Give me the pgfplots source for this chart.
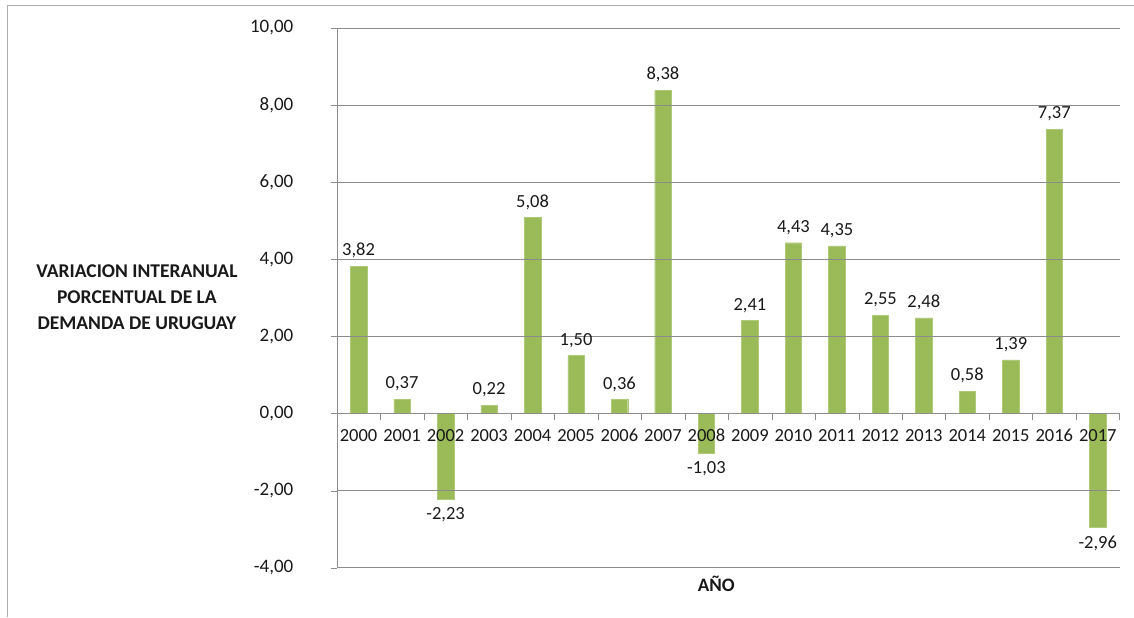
\documentclass[border=0pt]{standalone}
\usepackage{pgfplots}
\pgfplotsset{compat=1.18}
\usepackage{fontspec}
\setmainfont{Carlito}
\definecolor{bargreen}{HTML}{9BBB59}
\definecolor{gridgray}{HTML}{8C8C8C}
\pgfdeclarelayer{bars}
\pgfplotsset{
  layers/mylayers/.define layer set={axis background,axis grid,bars,axis ticks,axis lines,axis tick labels,main,axis descriptions,axis foreground}{},
}
\begin{document}
\begin{tikzpicture}
\begin{axis}[
  set layers=mylayers,
  name=ax,
  scale only axis,
  width=783pt, height=540pt,
  xmin=-0.5, xmax=17.5,
  ymin=-4, ymax=10,
  ybar, bar width=16.5pt,
  axis x line=middle, axis y line=left,
  axis line style={-, draw=gridgray},
  tick align=outside,
  xtick={0,...,17},
  xticklabels={2000,2001,2002,2003,2004,2005,2006,2007,2008,2009,2010,2011,2012,2013,2014,2015,2016,2017},
  major x tick style={draw=none},
  minor xtick={-0.5,0.5,...,17.5},
  minor x tick style={draw=gridgray},
  minor tick length=6pt,
  xticklabel style={font=\fontsize{18.5}{20}\selectfont, yshift=-6pt, text=black!90},
  ytick={-4,-2,...,10},
  major tick length=6pt,
  y tick style={draw=gridgray},
  ymajorgrids,
  grid style={draw=gridgray, line width=0.8pt},
  yticklabel style={font=\fontsize{19}{20}\selectfont, xshift=-34pt, text=black!90,
    /pgf/number format/.cd, fixed, fixed zerofill, precision=2, use comma},
  /pgf/number format/assume math mode=true,
  scaled y ticks=false,
  nodes near coords,
  nodes near coords style={font=\fontsize{18.5}{20}\selectfont, text=black!90, inner ysep=8pt,
    /pgf/number format/.cd, fixed, fixed zerofill, precision=2, use comma, assume math mode=true},
  clip=false,
]
\addplot[on layer=bars, fill=bargreen, draw=bargreen!80!white] coordinates {
(0,3.82) (1,0.37) (2,-2.23) (3,0.22) (4,5.08) (5,1.50) (6,0.36) (7,8.38) (8,-1.03)
(9,2.41) (10,4.43) (11,4.35) (12,2.55) (13,2.48) (14,0.58) (15,1.39) (16,7.37) (17,-2.96)
};
\end{axis}
\node[font=\bfseries\fontsize{19.5}{26}\selectfont, align=center, text=black!90] at ([xshift=-200pt, yshift=271pt]ax.south west) {VARIACION INTERANUAL\\PORCENTUAL DE LA\\DEMANDA DE URUGUAY};
\node[font=\bfseries\fontsize{19}{20}\selectfont, text=black!90] at ([xshift=-12pt, yshift=-16pt]ax.south) {AÑO};
\draw[gridgray!70, line width=1pt] ([xshift=-329pt, yshift=-49pt]ax.south west) -- ([xshift=-329pt, yshift=22pt]ax.north west) -- ([xshift=14pt, yshift=22pt]ax.north east);
\useasboundingbox ([xshift=-337pt, yshift=-49pt]ax.south west) rectangle ([xshift=14pt, yshift=28pt]ax.north east);
\end{tikzpicture}
\end{document}
